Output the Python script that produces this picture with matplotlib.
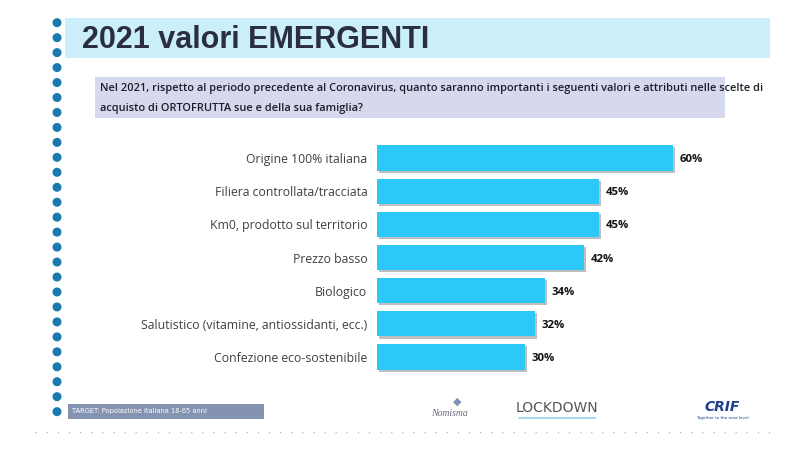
import matplotlib
matplotlib.use("Agg")
import matplotlib.pyplot as plt
from matplotlib.patches import Rectangle, Circle
import matplotlib.patheffects as pe

categories = [
    "Origine 100% italiana",
    "Filiera controllata/tracciata",
    "Km0, prodotto sul territorio",
    "Prezzo basso",
    "Biologico",
    "Salutistico (vitamine, antiossidanti, ecc.)",
    "Confezione eco-sostenibile",
]
values = [60, 45, 45, 42, 34, 32, 30]
value_labels = [f"{v}%" for v in values]

title = "2021 valori EMERGENTI"
question_l1 = ("Nel 2021, rispetto al periodo precedente al Coronavirus, quanto saranno "
               "importanti i seguenti valori e attributi nelle scelte di")
question_l2 = "acquisto di ORTOFRUTTA sue e della sua famiglia?"
footer = "TARGET: Popolazione italiana 18-65 anni"

W, H = 800, 451
fig = plt.figure(figsize=(8, 4.51), dpi=100)
fig.patch.set_facecolor("white")

# decoration axes in pixel coordinates
deco = fig.add_axes([0, 0, 1, 1])
deco.set_xlim(0, W)
deco.set_ylim(H, 0)
deco.axis("off")

# left dots
for i in range(27):
    deco.add_patch(Circle((57, 22.7 + i * 14.96), 3.8, color="#1a7ab0", zorder=3))

# title band
deco.add_patch(Rectangle((65, 18), 705, 40, facecolor="#cbeefb", edgecolor="none"))
deco.text(82, 40, title, fontsize=22, fontweight="bold", color="#2b2e42",
          va="center", ha="left", family=["Liberation Sans", "DejaVu Sans"])

# question box
deco.add_patch(Rectangle((95, 77), 630, 41, facecolor="#d6d9ee", edgecolor="none"))
qfam = ["Liberation Sans Narrow", "Open Sans", "DejaVu Sans"]
deco.text(100, 89, question_l1, fontsize=7.9, color="#1c1c2a", va="center",
          ha="left", fontweight="semibold", family=qfam)
deco.text(100, 108, question_l2, fontsize=7.9, color="#1c1c2a", va="center",
          ha="left", fontweight="semibold", family=qfam)

# footer box
deco.add_patch(Rectangle((68, 404), 196, 15, facecolor="#8593b3", edgecolor="none"))
deco.text(72, 411.5, footer, fontsize=4.8, color="white", va="center", ha="left")

# dotted line
deco.plot([35, 770], [432, 432], color="#bbbbbb", lw=1, ls=(0, (1, 7)))

# logos as text
deco.text(449, 414, "Nomisma", fontsize=7, style="italic", color="#6a6a80",
          ha="center", va="center", family=["Liberation Serif", "DejaVu Serif"])
deco.text(457, 402, "◆", fontsize=8, color="#7f8fb5", ha="center", va="center")
deco.text(557, 408, "LOCKDOWN", fontsize=10, color="#555555", ha="center",
          va="center", family=["Liberation Sans Narrow", "DejaVu Sans"])
deco.plot([519, 595], [418, 418], color="#9ad0ef", lw=1.2)
deco.text(722, 407, "CRIF", fontsize=10, fontweight="bold", style="italic",
          color="#1d3e8a", ha="center", va="center")
deco.text(722, 418, "Together to the next level", fontsize=3, color="#1d3e8a",
          ha="center", va="center")

# bar chart axes
left_px, right_px = 377, 377 + 80 * 4.933
top_px, bot_px = 141.4, 373.6
ax = fig.add_axes([left_px / W, 1 - bot_px / H, (right_px - left_px) / W,
                   (bot_px - top_px) / H])
ax.set_xlim(0, 80)
ax.set_ylim(len(categories) - 0.5, -0.5)
ypos = list(range(len(categories)))
bars = ax.barh(ypos, values, height=0.76, color="#2cc8f8", edgecolor="none")
for b in bars:
    b.set_path_effects([pe.SimplePatchShadow(offset=(1.5, -1.5),
                                             shadow_rgbFace="#b0b0b0", alpha=0.8),
                        pe.Normal()])
for y, v, lab in zip(ypos, values, value_labels):
    ax.text(v + 1.3, y + 0.05, lab, va="center", ha="left", fontsize=8.2,
            fontweight="bold", color="#111111", family=qfam)
ax.set_yticks(ypos)
ax.set_yticklabels(categories, fontsize=8.8, color="#404040",
                   family=["Open Sans", "DejaVu Sans"])
ax.tick_params(axis="y", length=0, pad=7)
ax.set_xticks([])
for s in ax.spines.values():
    s.set_visible(False)
ax.patch.set_alpha(0)

fig.savefig("out.png", dpi=100)
